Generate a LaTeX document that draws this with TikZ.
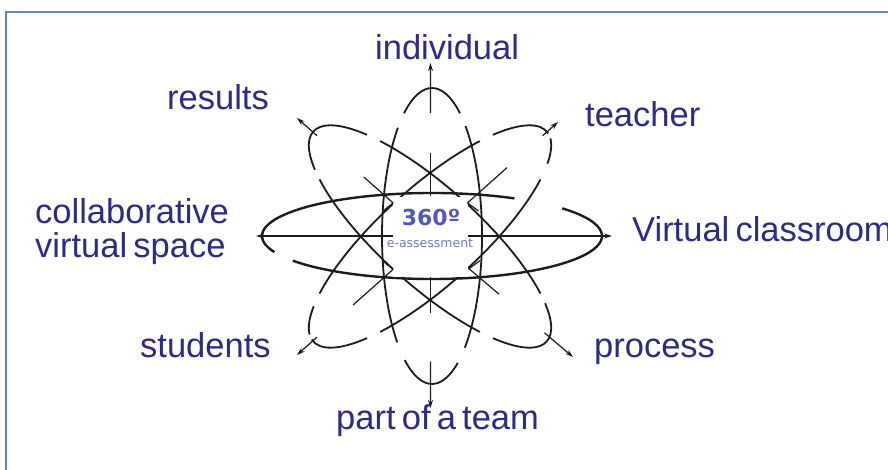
\documentclass[tikz,border=0pt]{standalone}
\usepackage{fontspec}
\setmainfont{Liberation Sans}
\newfontfamily\corefont{DejaVu Sans}
\usetikzlibrary{arrows.meta,calc}
\definecolor{labelblue}{RGB}{44,42,140}
\definecolor{centreblue}{RGB}{78,88,196}
\definecolor{smallblue}{RGB}{112,122,200}
\definecolor{framecol}{RGB}{96,136,188}
\definecolor{ink}{RGB}{28,28,28}
% label face with tighter word spaces
\newcommand\lblfont{\fontsize{34.5}{40}\selectfont\setlength{\spaceskip}{0.18em}}
\tikzset{
  orbit/.style={draw=ink, line width=1.8pt},
  mainorbit/.style={draw=ink, line width=2.4pt},
  axisline/.style={draw=ink, line width=1.2pt},
  axisarrow/.style={axisline, -{Stealth[length=8pt,width=5pt]}},
  lbl/.style={font=\lblfont, text=labelblue, inner sep=0pt, anchor=base west},
}
% one dash of an orbit: style, start angle, end angle, x radius, y radius
\newcommand\orbarc[5]{\draw[#1] (#2:#4 and #5) arc[start angle=#2, end angle=#3, x radius=#4, y radius=#5];}
\begin{document}
\begin{tikzpicture}[x=1pt,y=1pt]
\useasboundingbox (0,0) rectangle (888,470);
\fill[white] (0,0) rectangle (888,470);
\draw[framecol, line width=2.5pt] (6,0) -- (6,458) -- (888,458);

% centre and axis tips
\coordinate (O) at (430.5,234);
\coordinate (tipN) at (430.5,407);
\coordinate (tipS) at (430.5,62);
\coordinate (tipW) at (256,234);
\coordinate (tipE) at (612,234);
\coordinate (tipR) at (297,352);
\coordinate (tipP) at (573,113);
\coordinate (tipT) at (558,348);
\coordinate (tipSt) at (297,115);

% horizontal orbit
\begin{scope}[shift={(432,234)}]
  \orbarc{mainorbit}{61}{202}{170}{43}
  \orbarc{mainorbit}{215}{400}{170}{43}
\end{scope}
% vertical orbit
\begin{scope}[shift={(432,234)}]
  \orbarc{orbit}{56}{124}{50}{148}
  \orbarc{orbit}{133}{226}{50}{148}
  \orbarc{orbit}{237}{301}{50}{148}
  \orbarc{orbit}{311}{408}{50}{148}
\end{scope}
% falling diagonal orbit
\begin{scope}[shift={(430,233.5)}, rotate=-42]
  \orbarc{orbit}{40}{130}{157}{49}
  \orbarc{orbit}{137}{214}{157}{49}
  \orbarc{orbit}{220}{310}{157}{49}
  \orbarc{orbit}{317}{394}{157}{49}
\end{scope}
% rising diagonal orbit
\begin{scope}[shift={(430,233.5)}, rotate=42]
  \orbarc{orbit}{50}{140}{157}{49}
  \orbarc{orbit}{148}{171}{157}{49}
  \orbarc{orbit}{177}{223}{157}{49}
  \orbarc{orbit}{230}{320}{157}{49}
  \orbarc{orbit}{330}{351}{157}{49}
  \orbarc{orbit}{357}{403}{157}{49}
\end{scope}

% axes
\draw[axisline, {Stealth[length=8pt,width=5pt]}-{Stealth[length=8pt,width=5pt]}] (tipW) -- (tipE);
\draw[axisarrow] ($(O)!0.71!(tipN)$) -- (tipN);
\draw[axisarrow] ($(O)!0.73!(tipS)$) -- (tipS);
\draw[axisarrow] ($(O)!0.85!(tipR)$) -- (tipR);
\draw[axisarrow] ($(O)!0.80!(tipP)$) -- (tipP);
\draw[axisarrow] ($(O)!0.88!(tipT)$) -- (tipT);
\draw[axisarrow] ($(O)!0.85!(tipSt)$) -- (tipSt);

% centre panel
\node[fill=white, minimum width=75pt, minimum height=80pt, inner sep=0pt] (core) at (430.5,233) {};
\node[font=\corefont\bfseries\fontsize{22}{24}\selectfont, text=centreblue, inner sep=0pt] (deg) at (431,253) {360º};
\node[font=\corefont\fontsize{12.5}{14}\selectfont, text=smallblue, inner sep=0pt] (sub) at (430,227) {e-assessment};

% inner axis pieces with their short return strokes
\draw[axisline] ($(O)!0.23!(tipN)$) -- ($(O)!0.48!(tipN)$);
\draw[axisline] ($(O)!0.24!(tipS)$) -- ($(O)!0.45!(tipS)$);
\draw[axisline] ($(O)!0.28!(tipR)$) -- ($(O)!0.50!(tipR)$);
\draw[axisline] ($(O)!0.27!(tipP)$) -- ($(O)!0.48!(tipP)$);
\draw[axisline] ($(O)!0.29!(tipT)$) -- ($(O)!0.60!(tipT)$);
\draw[axisline] ($(O)!0.28!(tipSt)$) -- ($(O)!0.58!(tipSt)$);
\draw[axisline] ($(O)!0.28!(tipR)$) -- ++(-10,-8);
\draw[axisline] ($(O)!0.29!(tipT)$) -- ++(11,-8);
\draw[axisline] ($(O)!0.28!(tipSt)$) -- ++(-10,8);
\draw[axisline] ($(O)!0.27!(tipP)$) -- ++(11,8);

% labels
\node[lbl] (individual) at (375,410) {individual};
\node[lbl] (results) at (167,360) {results};
\node[lbl] (teacher) at (585,343) {teacher};
\node[lbl] (collab1) at (35,246) {collaborative};
\node[lbl] (collab2) at (35,212) {virtual space};
\node[lbl] (classroom) at (632,228) {Virtual classroom};
\node[lbl] (students) at (140,112) {students};
\node[lbl] (process) at (594,112) {process};
\node[lbl] (team) at (336,40) {part of a team};
\end{tikzpicture}
\end{document}
